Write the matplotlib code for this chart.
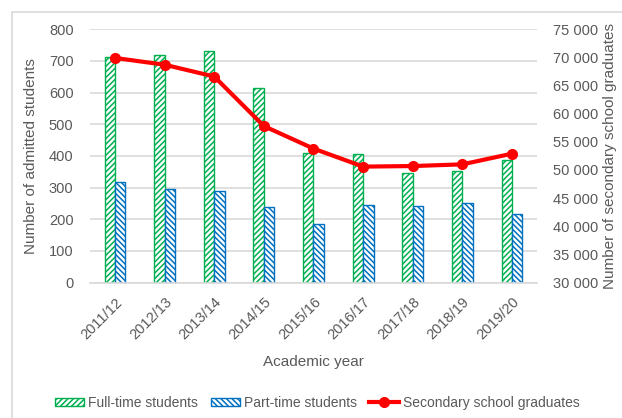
import numpy as np
import matplotlib.pyplot as plt
from matplotlib.patches import Rectangle

plt.rcParams['font.family'] = ['Liberation Sans', 'DejaVu Sans']
plt.rcParams['hatch.linewidth'] = 1.1

years = ['2011/12', '2012/13', '2013/14', '2014/15', '2015/16',
         '2016/17', '2017/18', '2018/19', '2019/20']
full_time = [712, 720, 730, 615, 408, 405, 347, 352, 388]
part_time = [318, 294, 290, 240, 184, 246, 243, 251, 215]
graduates = [69900, 68700, 66600, 57800, 53800, 50600, 50700, 51000, 52900]

txt = '#595959'
grid = '#D9D9D9'

fig = plt.figure(figsize=(6.22, 4.18), dpi=100)
ax = fig.add_axes([0.145, 0.324, 0.718, 0.606])
ax2 = ax.twinx()

x = np.arange(len(years))
w = 0.21
ax.bar(x - w / 2, full_time, w, color='white', edgecolor='#00B050',
       hatch='//////', linewidth=1, label='Full-time students', zorder=2)
ax.bar(x + w / 2, part_time, w, color='white', edgecolor='#0070C0',
       hatch='\\\\\\\\\\\\', linewidth=1, label='Part-time students', zorder=2)
ax2.plot(x, graduates, color='#FF0000', lw=3, marker='o', ms=7,
         label='Secondary school graduates')

ax.set_xlim(-0.5, len(years) - 0.5)
ax.set_ylim(0, 800)
ax.set_yticks(range(0, 801, 100))
ax2.set_ylim(30000, 75000)
ax2.set_yticks(range(30000, 75001, 5000))
ax2.set_yticklabels([f'{v:,}'.replace(',', ' ') for v in range(30000, 75001, 5000)])

ax.yaxis.grid(True, color=grid, lw=1.2, zorder=0)
ax.set_axisbelow(True)
for a in (ax, ax2):
    for s in a.spines.values():
        s.set_visible(False)
    a.tick_params(length=0, colors=txt, labelsize=10.5)
ax.spines['bottom'].set_visible(True)
ax.spines['bottom'].set_color(grid)
ax.spines['bottom'].set_linewidth(1.2)

ax.set_xticks(x)
ax.set_xticklabels(years, rotation=45, ha='right', rotation_mode='anchor')
ax.tick_params(axis='x', pad=9)
ax.tick_params(axis='y', pad=12)
ax2.tick_params(axis='y', pad=12)

ax.set_ylabel('Number of admitted students', color=txt, fontsize=11)
ax.yaxis.set_label_coords(-0.117, 0.5)
ax2.set_ylabel('Number of secondary school graduates', color=txt, fontsize=11)
ax2.yaxis.set_label_coords(1.149, 0.5)
ax.set_xlabel('Academic year', color=txt, fontsize=11)
ax.xaxis.set_label_coords(0.5, -0.285)

h1, l1 = ax.get_legend_handles_labels()
h2, l2 = ax2.get_legend_handles_labels()
leg = fig.legend(h1 + h2, l1 + l2, loc='center', bbox_to_anchor=(0.51, 0.036),
                 ncol=3, frameon=False, fontsize=10, handlelength=2.1,
                 handleheight=0.6, handletextpad=0.3, columnspacing=0.9)
for t in leg.get_texts():
    t.set_color(txt)

fig.patches.append(Rectangle((12 / 622, -0.1), 1.2, 0.1 + (418 - 12) / 418,
                             transform=fig.transFigure, fill=False,
                             edgecolor=grid, lw=1.2))

fig.savefig('out.png', dpi=100)
